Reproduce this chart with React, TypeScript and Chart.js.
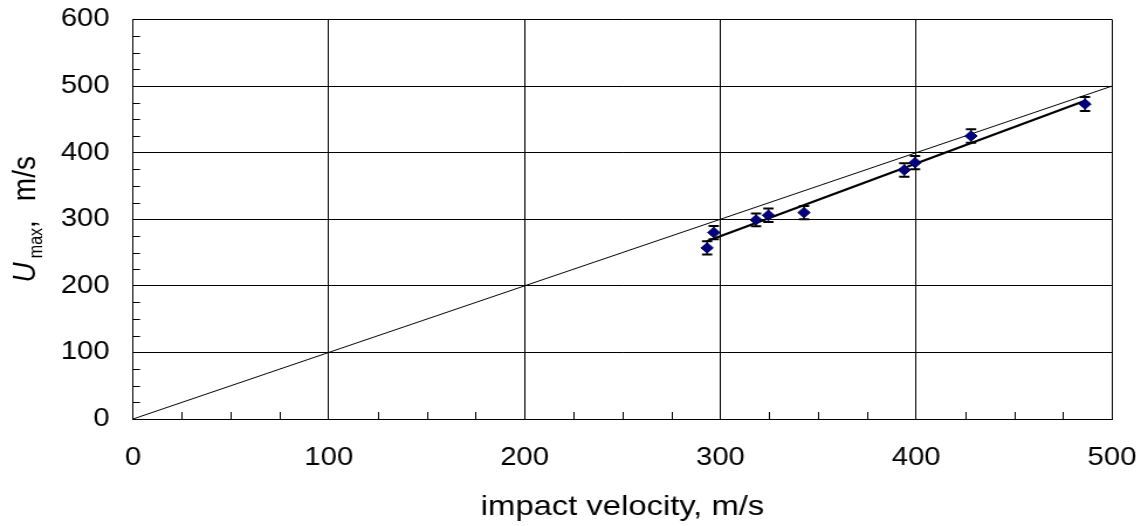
import React, { useEffect, useRef } from 'react';
import { Chart, registerables } from 'chart.js';

Chart.register(...registerables);

// ---- data ----
const impactVelocity = [293.2, 296.6, 318.2, 324.5, 342.7, 393.9, 399.4, 428.0, 486.2];
const uMax = [257, 280, 299, 306, 310, 374, 385, 425, 473];
const uMaxError = [10, 10, 9.5, 10, 10, 10, 10, 10, 10.5];
const fitVelocity = [293, 486.2];
const fitUMax = [267, 478];
const equalityX = [0, 500];
const equalityY = [0, 500];
const xTickValues = [0, 100, 200, 300, 400, 500];
const yTickValues = [0, 100, 200, 300, 400, 500, 600];
const minorStep = 25;

// the reference renders text wider than tall; draw at a narrower internal width and stretch
const SCREEN_W = 1141;
const SCREEN_H = 526;
const INTERNAL_W = 975;
const STRETCH = SCREEN_W / INTERNAL_W;

const FONT = '"Liberation Sans", Arial, Helvetica, sans-serif';

const errorBarPlugin = {
  id: 'errorBars',
  beforeDatasetsDraw(chart: any) {
    const { ctx, scales } = chart;
    const xs = scales.x;
    const ys = scales.y;
    ctx.save();
    ctx.strokeStyle = '#000';
    impactVelocity.forEach((v, i) => {
      const px = xs.getPixelForValue(v);
      const top = ys.getPixelForValue(uMax[i] + uMaxError[i]);
      const bot = ys.getPixelForValue(uMax[i] - uMaxError[i]);
      ctx.lineWidth = 1.4;
      ctx.beginPath();
      ctx.moveTo(px, top);
      ctx.lineTo(px, bot);
      ctx.stroke();
      ctx.lineWidth = 2;
      ctx.beginPath();
      ctx.moveTo(px - 4.4, top);
      ctx.lineTo(px + 4.4, top);
      ctx.moveTo(px - 4.4, bot);
      ctx.lineTo(px + 4.4, bot);
      ctx.stroke();
    });
    ctx.restore();
  },
};

const minorTickPlugin = {
  id: 'minorTicks',
  afterDraw(chart: any) {
    const { ctx, scales, chartArea } = chart;
    const xs = scales.x;
    const ys = scales.y;
    ctx.save();
    ctx.strokeStyle = '#000';
    ctx.lineWidth = 1;
    ctx.beginPath();
    for (let v = xs.min + minorStep; v < xs.max; v += minorStep) {
      if (v % 100 === 0) continue;
      const px = Math.round(xs.getPixelForValue(v)) + 0.5;
      ctx.moveTo(px, chartArea.bottom);
      ctx.lineTo(px, chartArea.bottom - 7);
    }
    for (let v = ys.min + minorStep; v < ys.max; v += minorStep) {
      if (v % 100 === 0) continue;
      const py = Math.round(ys.getPixelForValue(v)) + 0.5;
      ctx.moveTo(chartArea.left, py);
      ctx.lineTo(chartArea.left + 6, py);
    }
    ctx.stroke();
    ctx.restore();
  },
};

const yTitlePlugin = {
  id: 'yTitle',
  afterDraw(chart: any) {
    const { ctx, chartArea } = chart;
    const main = `28px ${FONT}`;
    const italic = `italic 28px ${FONT}`;
    const sub = `16px ${FONT}`;
    ctx.save();
    ctx.fillStyle = '#000';
    ctx.textBaseline = 'alphabetic';
    ctx.textAlign = 'left';
    ctx.font = italic;
    const wU = ctx.measureText('U').width;
    ctx.font = sub;
    const wMax = ctx.measureText('max').width;
    ctx.font = main;
    const wComma = ctx.measureText(',').width;
    const wUnit = ctx.measureText('m/s').width;
    const gapU = 4;
    const gapComma = 19;
    const total = wU + gapU + wMax + wComma + gapComma + wUnit;
    const cy = (chartArea.top + chartArea.bottom) / 2;
    ctx.translate(29.5, cy);
    ctx.rotate(-Math.PI / 2);
    let x = -total / 2;
    ctx.font = italic;
    ctx.fillText('U', x, 0);
    x += wU + gapU;
    ctx.font = sub;
    ctx.fillText('max', x, 6);
    x += wMax;
    ctx.font = main;
    ctx.fillText(',', x, 0);
    x += wComma + gapComma;
    ctx.fillText('m/s', x, 0);
    ctx.restore();
  },
};

export default function App() {
  const canvasRef = useRef<HTMLCanvasElement | null>(null);

  useEffect(() => {
    const canvas = canvasRef.current;
    if (!canvas) return;
    const pointData = impactVelocity.map((v, i) => ({ x: v, y: uMax[i] }));
    const fitData = fitVelocity.map((v, i) => ({ x: v, y: fitUMax[i] }));
    const eqData = equalityX.map((v, i) => ({ x: v, y: equalityY[i] }));

    const chart = new Chart(canvas, {
      type: 'scatter',
      data: {
        datasets: [
          {
            label: 'U max',
            data: pointData,
            pointStyle: 'rectRot',
            pointRadius: 5.2,
            pointBackgroundColor: '#000080',
            pointBorderColor: '#00005a',
            pointBorderWidth: 1,
            showLine: false,
          },
          {
            label: 'fit',
            data: fitData,
            showLine: true,
            borderColor: '#000',
            borderWidth: 2.2,
            pointRadius: 0,
            fill: false,
          },
          {
            label: 'U = V',
            data: eqData,
            showLine: true,
            borderColor: '#000',
            borderWidth: 1,
            pointRadius: 0,
            fill: false,
          },
        ],
      },
      options: {
        animation: false,
        responsive: false,
        devicePixelRatio: 1,
        layout: { padding: { top: 19.5, right: 975 - 1112 / STRETCH, left: 0, bottom: 0 } },
        plugins: {
          legend: { display: false },
          tooltip: { enabled: false },
          title: { display: false },
        },
        scales: {
          x: {
            type: 'linear',
            min: 0,
            max: 500,
            afterBuildTicks: (scale: any) => {
              scale.ticks = xTickValues.map((v) => ({ value: v }));
            },
            afterFit: (scale: any) => {
              scale.height = 107;
              scale.paddingLeft = 0;
              scale.paddingRight = 0;
            },
            grid: { color: '#000', lineWidth: 1, drawTicks: false },
            border: { display: true, color: '#000', width: 1 },
            ticks: {
              color: '#000',
              font: { family: FONT, size: 25 },
              padding: 24,
              maxRotation: 0,
            },
            title: {
              display: true,
              text: 'impact velocity, m/s',
              color: '#000',
              font: { family: FONT, size: 28 },
              padding: { top: 0, bottom: 2 },
            },
          },
          y: {
            type: 'linear',
            min: 0,
            max: 600,
            afterBuildTicks: (scale: any) => {
              scale.ticks = yTickValues.map((v) => ({ value: v }));
            },
            afterFit: (scale: any) => {
              scale.width = 133 / STRETCH;
              scale.paddingTop = 0;
              scale.paddingBottom = 0;
            },
            grid: { color: '#000', lineWidth: 1, drawTicks: false },
            border: { display: true, color: '#000', width: 1 },
            ticks: {
              color: '#000',
              font: { family: FONT, size: 25 },
              padding: 20,
            },
          },
        },
      },
      plugins: [errorBarPlugin, minorTickPlugin, yTitlePlugin],
    } as any);

    return () => {
      chart.destroy();
    };
  }, []);

  return (
    <div style={{ position: 'absolute', left: 0, top: 0, width: SCREEN_W, height: SCREEN_H, background: '#fff' }}>
      <canvas
        ref={canvasRef}
        width={INTERNAL_W}
        height={SCREEN_H}
        style={{ width: `${SCREEN_W}px`, height: `${SCREEN_H}px`, display: 'block' }}
      />
    </div>
  );
}
